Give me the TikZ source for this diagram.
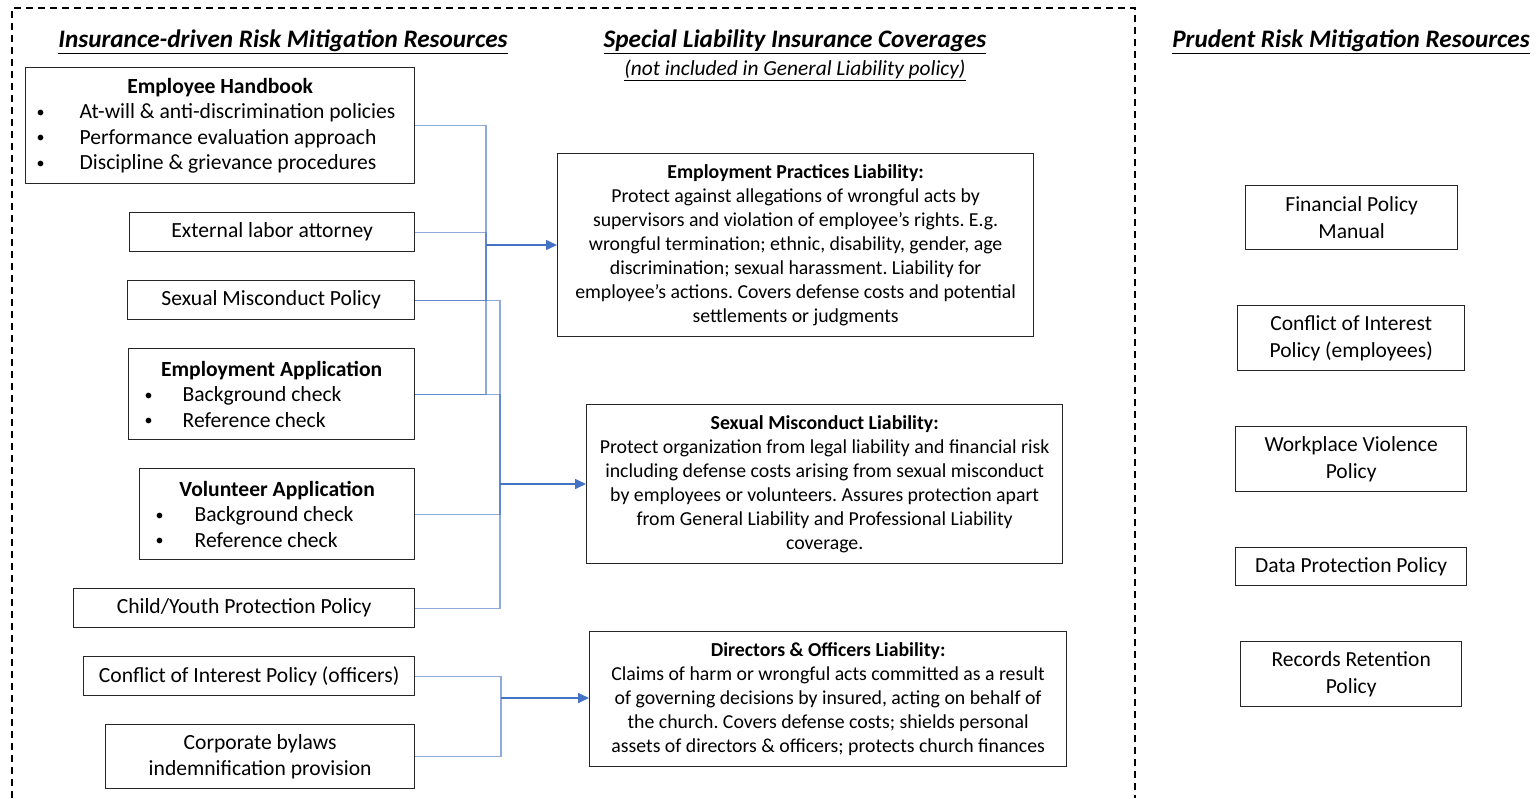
\documentclass[tikz,border=0pt]{standalone}
\usepackage{fontspec}
\setmainfont{Carlito}
\usetikzlibrary{arrows.meta}
\frenchspacing
\definecolor{lnk}{HTML}{4472C4}
\definecolor{bord}{HTML}{262626}
\newcommand{\bl}[2]{\makebox[#1][l]{\raisebox{1.2pt}{\fontsize{16}{16}\selectfont\textbullet}}#2}
\tikzset{
 box/.style={draw=bord, line width=1.3pt, inner sep=0pt, anchor=north west, align=center},
 lt/.style={font=\fontsize{21.6}{25.5}\selectfont},
 mt/.style={font=\fontsize{19.8}{24}\selectfont},
 rt/.style={font=\fontsize{21.5}{27}\selectfont},
 hd/.style={font=\fontsize{25.2}{28}\selectfont\bfseries\itshape, inner sep=0pt},
 sub/.style={font=\fontsize{21.4}{24}\selectfont\itshape, inner sep=0pt},
 link/.style={draw=lnk, line width=1.1pt, draw opacity=0.6},
 arr/.style={draw=lnk, line width=1.6pt, -{Triangle[length=11pt,width=10pt]}},
 frame/.style={draw=black, line width=1.3pt, dash pattern=on 7pt off 5pt},
}
\begin{document}
\begin{tikzpicture}[x=1pt,y=-1pt]
\useasboundingbox (0,0) rectangle (1539,798);
\draw[frame] (12,798) -- (12,8) -- (1135,8) -- (1135,798);

% headings
\node[hd] (h1) at (283,42) {\underline{Insurance-driven Risk Mitigation Resources}};
\node[hd] (h2) at (795,42) {\underline{Special Liability Insurance Coverages}};
\node[sub] (h2s) at (795,70.5) {\underline{(not included in General Liability policy)}};
\node[hd] (h3) at (1351,42) {\underline{Prudent Risk Mitigation Resources}};

% left column
\node[box,lt,align=left,minimum width=389pt,minimum height=116pt] (hb) at (25,67)
 {\makebox[389pt]{\textbf{Employee Handbook}}\\
  \hspace*{11pt}\bl{43pt}{At-will \& anti-discrimination policies}\\
  \hspace*{11pt}\bl{43pt}{Performance evaluation approach}\\
  \hspace*{11pt}\bl{43pt}{Discipline \& grievance procedures}};
\node[box,lt,minimum width=285pt,minimum height=39pt] (ext) at (129,212) {External labor attorney};
\node[box,lt,minimum width=287pt,minimum height=39pt] (smp) at (127,280) {Sexual Misconduct Policy};
\node[box,lt,align=left,minimum width=286pt,minimum height=91pt] (ea) at (128,348)
 {\makebox[286pt]{\textbf{Employment Application}}\\
  \hspace*{16pt}\bl{38pt}{Background check}\\
  \hspace*{16pt}\bl{38pt}{Reference check}};
\node[box,lt,align=left,minimum width=275pt,minimum height=91pt] (va) at (139,468)
 {\makebox[275pt]{\textbf{Volunteer Application}}\\
  \hspace*{16pt}\bl{39pt}{Background check}\\
  \hspace*{16pt}\bl{39pt}{Reference check}};
\node[box,lt,minimum width=341pt,minimum height=39pt] (cy) at (73,588) {Child/Youth Protection Policy};
\node[box,lt,minimum width=331pt,minimum height=39pt] (coi) at (83,656) {Conflict of Interest Policy (officers)};
\node[box,lt,minimum width=309pt,minimum height=64pt] (cb) at (105,724) {Corporate bylaws\\indemnification provision};

% middle column
\node[box,mt,minimum width=476pt,minimum height=183pt] (epl) at (557,153)
 {\textbf{Employment Practices Liability:}\\
  Protect against allegations of wrongful acts by\\
  supervisors and violation of employee’s rights. E.g.\\
  wrongful termination; ethnic, disability, gender, age\\
  discrimination; sexual harassment. Liability for\\
  employee’s actions. Covers defense costs and potential\\
  settlements or judgments};
\node[box,mt,minimum width=476pt,minimum height=159pt] (sml) at (586,404)
 {\textbf{Sexual Misconduct Liability:}\\
  Protect organization from legal liability and financial risk\\
  including defense costs arising from sexual misconduct\\
  by employees or volunteers. Assures protection apart\\
  from General Liability and Professional Liability\\
  coverage.};
\node[box,mt,minimum width=477pt,minimum height=135pt] (do) at (589,631)
 {\textbf{Directors \& Officers Liability:}\\
  Claims of harm or wrongful acts committed as a result\\
  of governing decisions by insured, acting on behalf of\\
  the church. Covers defense costs; shields personal\\
  assets of directors \& officers; protects church finances};

% right column
\node[box,rt,minimum width=212pt,minimum height=64pt] (fpm) at (1245,185) {Financial Policy\\Manual};
\node[box,rt,minimum width=227pt,minimum height=65pt] (coe) at (1237,305) {Conflict of Interest\\Policy (employees)};
\node[box,rt,minimum width=231pt,minimum height=65pt] (wvp) at (1235,426) {Workplace Violence\\Policy};
\node[box,rt,minimum width=231pt,minimum height=38pt] (dpp) at (1235,547) {Data Protection Policy};
\node[box,rt,minimum width=221pt,minimum height=65pt] (rrp) at (1240,641) {Records Retention\\Policy};

% connectors
\coordinate (j1) at (486,245);
\coordinate (j2) at (500,484);
\coordinate (j3) at (501,698);
\foreach \n in {hb,ext,smp,ea} \draw[link] (\n.east) -| (j1);
\foreach \n in {smp,ea,va,cy} \draw[link] (\n.east) -| (j2);
\foreach \n in {coi,cb} \draw[link] (\n.east) -| (j3);
\draw[arr] (j1) -- (j1 -| epl.west);
\draw[arr] (j2) -- (j2 -| sml.west);
\draw[arr] (j3) -- (j3 -| do.west);
\end{tikzpicture}
\end{document}
